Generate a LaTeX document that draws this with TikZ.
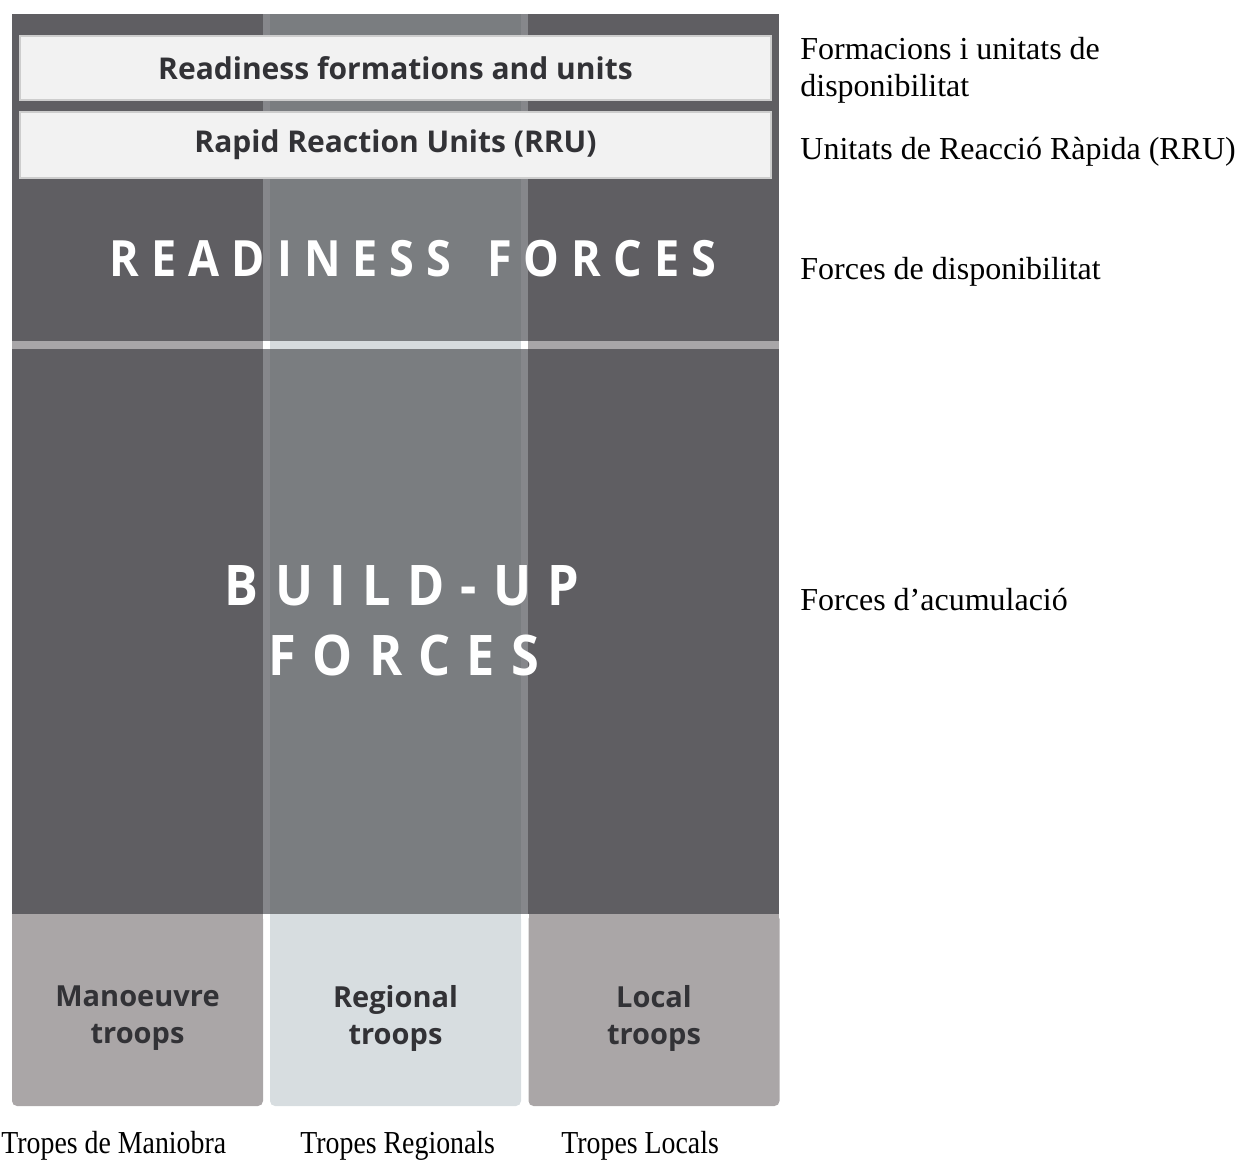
\documentclass[tikz,border=0pt]{standalone}
\usepackage{fontspec}
\setmainfont{Liberation Serif}
\newfontfamily\narrowserif{Liberation Serif}[FakeStretch=0.87]
\newfontfamily\boxfont{Open Sans}
\newfontfamily\bigfont{Open Sans}[FakeStretch=0.9,LetterSpace=29]
\newfontfamily\readyfont{Open Sans}[FakeStretch=0.9,LetterSpace=24]
\definecolor{darkcol}{RGB}{95,94,98}
\definecolor{midcol}{RGB}{122,125,128}
\definecolor{midedge}{RGB}{134,135,139}
\definecolor{boxfill}{RGB}{242,242,242}
\definecolor{boxline}{RGB}{205,205,205}
\definecolor{troopgrey}{RGB}{170,166,167}
\definecolor{troopblue}{RGB}{215,221,224}
\definecolor{divgrey}{RGB}{168,166,168}
\definecolor{divlight}{RGB}{214,219,222}
\definecolor{inktext}{RGB}{50,50,54}
\tikzset{
  topbox/.style={draw=boxline,line width=0.6pt,fill=boxfill,minimum width=375.5pt,inner sep=0pt,
    text=inktext,font=\boxfont\bfseries\fontsize{15}{17}\selectfont},
  troopbox/.style={rounded corners=2.5pt,minimum width=125.5pt,minimum height=96pt,inner sep=0pt},
  trooptext/.style={align=center,text=inktext,inner sep=0pt,font=\boxfont\bfseries\fontsize{14.5}{18.5}\selectfont},
  bigtext/.style={text=white,inner sep=0pt,font=\bigfont\bfseries\fontsize{28}{33.5}\selectfont},
  readytext/.style={text=white,inner sep=0pt,font=\readyfont\bfseries\fontsize{25}{30}\selectfont},
  gloss/.style={inner sep=0pt,text=black,font=\fontsize{16}{18.5}\selectfont},
  bottomgloss/.style={inner sep=0pt,text=black,font=\narrowserif\fontsize{16}{18.5}\selectfont}
}
\begin{document}
\begin{tikzpicture}[x=0.5pt,y=-0.5pt]
\useasboundingbox (0,0) rectangle (1239,1167);
% columns
\fill[darkcol] (12,14) rectangle (779,914);
\fill[midedge] (263,14) rectangle (528,914);
\fill[midcol] (270,14) rectangle (521,914);
% divider
\fill[divgrey] (12,341) rectangle (779,349);
\fill[white] (263,341) rectangle (528,349);
\fill[divlight] (270,341) rectangle (521,349);
% top boxes
\node[topbox,minimum height=32pt] (rfu) at (395.5,68) {Readiness formations and units};
\node[topbox,minimum height=33pt] (rru) at (395.5,145) {Rapid Reaction Units (RRU)};
% big labels
\node[readytext,anchor=base] (rf) at (413,276) {READINESS\ \hspace{6pt}FORCES};
\node[bigtext,anchor=base] (bu) at (402,605) {BUILD-UP};
\node[bigtext,anchor=base] (bf) at (404,675) {FORCES};
% bottom boxes
\fill[troopgrey] (12,914) rectangle (263,930);
\fill[troopblue] (270,914) rectangle (521,930);
\fill[troopgrey] (529,914) rectangle (779,930);
\node[troopbox,fill=troopgrey] (man) at (137.5,1010) {};
\node[troopbox,fill=troopblue] (reg) at (395.5,1010) {};
\node[troopbox,fill=troopgrey] (loc) at (654,1010) {};
\node[trooptext] (mant) at (man.center) [yshift=-4pt] {Manoeuvre\\troops};
\node[trooptext] (regt) at (reg.center) [yshift=-4pt] {Regional\\troops};
\node[trooptext] (loct) at (loc.center) [yshift=-4pt] {Local\\troops};
% glosses
\node[gloss,anchor=north west,align=left] (g1) at (800,37) {Formacions i unitats de\\disponibilitat};
\node[gloss,anchor=base west] (g2) at (800,159) {Unitats de Reacció Ràpida (RRU)};
\node[gloss,anchor=base west] (g3) at (800,279) {Forces de disponibilitat};
\node[gloss,anchor=base west] (g4) at (800,610) {Forces d’acumulació};
\node[bottomgloss,anchor=base west] (b1) at (1,1153) {Tropes de Maniobra};
\node[bottomgloss,anchor=base west] (b2) at (300,1153) {Tropes Regionals};
\node[bottomgloss,anchor=base west] (b3) at (561,1153) {Tropes Locals};
\end{tikzpicture}
\end{document}
